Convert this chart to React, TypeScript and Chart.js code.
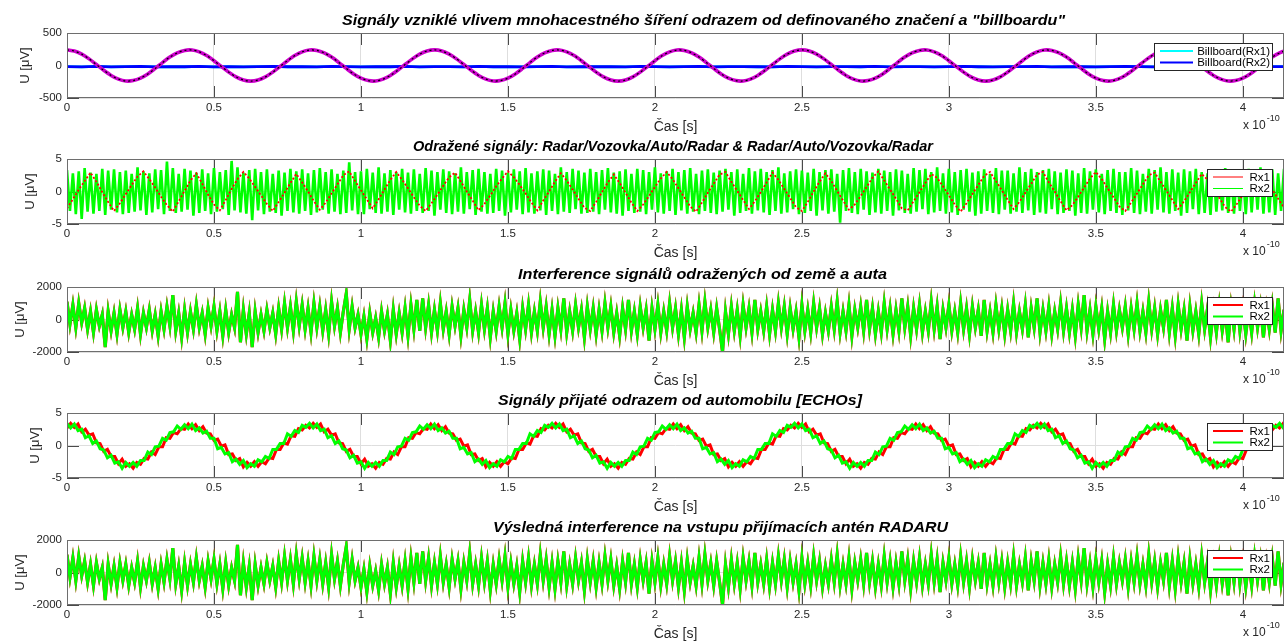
import React, { useEffect, useRef } from "react";
import { Chart, registerables } from "chart.js";
Chart.register(...registerables);

// ---------------- DATA ----------------
const X_MAX = 4.14; // x 10^-10 s
const X_STEP = 0.5;

// Panel 1 – billboard (dt = 0.025)
const P1_DT = 0.025;
const MULTIPATH_SIG = [
  240,223,175,102,15,-74,-153,-210,-238,-232,-194,-129,-45,45,129,194,232,238,210,153,74,-15,-102,-175,-223,-240,-223,-175,-102,-15,74,153,210,238,232,194,129,45,-45,-129,-194,-232,-238,-210,-153,-74,15,102,175,223,
  240,223,175,102,15,-74,-153,-210,-238,-232,-194,-129,-45,45,129,194,232,238,210,153,74,-15,-102,-175,-223,-240,-223,-175,-102,-15,74,153,210,238,232,194,129,45,-45,-129,-194,-232,-238,-210,-153,-74,15,102,175,223,
  240,223,175,102,15,-74,-153,-210,-238,-232,-194,-129,-45,45,129,194,232,238,210,153,74,-15,-102,-175,-223,-240,-223,-175,-102,-15,74,153,210,238,232,194,129,45,-45,-129,-194,-232,-238,-210,-153,-74,15,102,175,223,
  240,223,175,102,15,-74,-153,-210,-238,-232,-194,-129,-45,45,129,194,232,238,210,153,
];
const BB_DT = 0.05;
const BILLBOARD = [
  -16,-20,-14,-22,-18,-15,-21,-17,-19,-13,
  -20,-16,-22,-18,-15,-19,-17,-21,-14,-18,
  -20,-16,-19,-15,-22,-17,-18,-20,-14,-19,
  -16,-21,-18,-15,-20,-17,-19,-16,-22,-14,
  -18,-20,-17,-15,-21,-18,-16,-19,-20,-14,
  -17,-22,-18,-16,-19,-15,-21,-17,-18,-20,
  -16,-14,-19,-21,-17,-18,-15,-20,-16,-19,
  -22,-17,-14,-18,-20,-16,-19,-15,-21,-18,
  -17,-20,-16,-18,-19,-15,-21,-17,-18,-20,
];

// Panel 2 – reflected signals
const P2_G_DT = 0.01;
const REFL_RX2 = [
  3.3,-3.0,2.8,-3.5,3.1,-4.2,3.6,-3.1,2.9,-3.4,2.7,-3.0,3.5,-3.6,3.2,-2.8,3.4,-3.2,3.0,-3.5,
  3.2,-3.3,2.7,-3.1,3.7,-2.9,3.1,-3.6,2.8,-3.2,3.4,-2.7,3.3,-3.5,4.6,-3.0,3.6,-3.3,2.7,-3.1,
  3.5,-2.8,3.2,-3.7,2.9,-3.3,3.4,-3.0,2.8,-3.5,3.6,-3.1,3.0,-2.7,3.3,-3.6,4.7,-2.9,3.7,-3.2,
  2.9,-3.4,3.3,-4.4,3.5,-2.9,3.0,-3.5,3.4,-3.1,2.7,-3.3,3.2,-3.7,2.9,-3.0,3.5,-3.2,3.1,-3.4,
  3.4,-3.0,2.8,-3.6,3.3,-3.2,3.6,-2.8,3.0,-3.4,3.4,-3.1,2.7,-3.5,3.2,-3.3,4.5,-2.9,3.0,-3.5,
  3.1,-3.5,3.5,-2.7,2.9,-3.3,3.7,-3.4,2.8,-3.1,3.3,-3.6,3.0,-2.8,3.5,-3.2,2.9,-3.4,3.4,-3.0,
  2.7,-3.3,3.6,-3.0,3.2,-3.7,3.0,-2.8,3.4,-3.3,3.1,-3.5,2.8,-3.1,3.7,-3.4,3.0,-2.7,3.3,-3.6,
  3.5,-3.1,3.0,-3.4,2.7,-3.3,3.5,-3.0,3.2,-3.7,2.9,-3.2,3.4,-2.8,3.1,-3.5,3.6,-3.2,2.8,-3.4,
  3.1,-2.9,3.4,-3.6,3.2,-3.0,2.7,-3.5,3.7,-3.1,3.0,-3.3,3.5,-2.7,3.2,-3.4,2.9,-3.3,3.5,-3.1,
  3.0,-3.5,3.3,-2.8,3.6,-3.2,2.9,-3.4,3.1,-3.7,3.4,-3.0,2.7,-3.3,3.5,-3.1,3.3,-3.5,3.0,-2.8,
  3.7,-3.2,2.8,-3.4,3.1,-3.0,3.5,-3.6,3.0,-2.9,3.3,-3.4,3.6,-3.1,2.7,-3.5,3.2,-3.0,3.4,-3.3,
  2.9,-3.5,3.2,-3.1,3.5,-2.8,3.0,-3.7,3.4,-3.3,2.7,-3.0,3.6,-3.4,3.1,-2.9,3.5,-3.2,3.0,-3.6,
  3.3,-3.0,3.7,-3.4,2.8,-3.2,3.1,-2.7,3.4,-3.5,3.2,-3.3,2.9,-3.0,3.5,-3.7,3.0,-2.9,3.3,-3.4,
  3.4,-3.1,2.7,-4.8,3.3,-3.0,3.6,-3.3,3.0,-3.5,3.5,-2.8,3.1,-3.6,2.9,-3.2,3.5,-3.4,3.2,-3.0,
  3.0,-3.7,3.4,-2.9,3.2,-3.3,2.7,-3.4,3.6,-3.1,3.3,-2.7,3.5,-3.5,3.0,-3.2,3.7,-3.0,2.8,-3.4,
  3.5,-3.2,3.0,-3.6,3.3,-2.8,3.5,-3.1,2.9,-3.7,3.1,-3.4,3.4,-3.0,2.7,-3.3,3.6,-3.5,3.2,-2.8,
  3.2,-3.4,2.8,-3.1,3.7,-3.3,3.0,-2.9,3.5,-3.6,3.0,-3.2,3.3,-3.4,3.5,-2.7,3.1,-3.5,2.9,-3.3,
  3.4,-3.0,3.2,-3.7,2.8,-3.3,3.6,-3.4,3.1,-2.8,3.4,-3.2,2.7,-3.5,3.3,-3.0,3.5,-3.3,3.0,-3.6,
  3.0,-2.9,3.6,-3.3,3.2,-3.5,2.7,-3.1,3.5,-3.4,3.3,-2.8,3.7,-3.2,3.0,-3.4,3.4,-3.0,2.9,-3.7,
  3.4,-3.3,3.1,-2.7,3.5,-3.5,3.0,-3.3,2.8,-3.6,3.4,-3.1,3.2,-2.9,3.6,-3.3,3.0,-3.4,3.3,-3.0,
  2.9,-3.5,3.5,-3.2,3.3,-2.8,3.7,-3.4,3.0,-3.2,3.4,-3.6,2.8,-3.0,3.5,-3.3,3.2,-2.8,3.4,-3.5,
];
const P2_R_DT = 0.02;
const REFL_RX1 = [
  -2.6,-1.2,0.3,1.6,2.9,1.5,-0.1,-1.6,-3.0,-1.8,-0.4,1.0,2.3,3.1,1.9,0.6,-0.8,-2.1,-3.1,-1.5,
  0.1,1.7,2.8,1.2,-0.5,-2.0,-2.9,-1.3,0.4,1.9,3.0,2.0,0.7,-0.6,-1.9,-3.0,-1.6,-0.2,1.3,2.7,
  1.4,0.0,-1.5,-2.8,-1.7,-0.3,1.1,2.5,3.1,1.6,0.2,-1.2,-2.6,-1.2,0.3,1.8,3.0,1.8,0.5,-0.9,
  -2.2,-3.0,-1.8,-0.5,0.9,2.2,2.9,1.5,0.0,-1.4,-2.9,-1.9,-0.6,0.8,2.0,3.1,2.2,1.0,-0.3,-1.7,
  -2.9,-1.4,0.0,1.5,2.8,1.7,0.3,-1.1,-2.5,-3.0,-1.6,-0.1,1.4,2.6,1.3,-0.2,-1.7,-3.0,-2.0,-0.7,
  0.7,2.0,3.0,1.9,0.5,-0.9,-2.3,-3.1,-1.7,-0.2,1.2,2.6,3.0,1.5,0.1,-1.3,-2.7,-1.5,-0.1,1.4,
  2.9,1.8,0.4,-1.0,-2.4,-3.0,-1.6,0.0,1.5,2.8,1.6,0.1,-1.4,-2.8,-2.0,-0.7,0.7,2.1,3.1,1.7,
  0.3,-1.1,-2.6,-2.9,-1.5,-0.1,1.3,2.7,2.1,0.8,-0.6,-2.0,-3.1,-1.8,-0.4,1.0,2.4,3.0,1.6,0.2,
  -1.3,-2.7,-1.6,-0.2,1.2,2.6,3.0,1.4,0.0,-1.5,-2.9,-2.1,-0.8,0.6,2.0,3.0,1.9,0.5,-0.9,-2.3,
  -3.0,-1.7,-0.3,1.1,2.5,2.9,1.5,0.1,-1.3,-2.7,-1.5,-0.1,1.3,2.7,1.8,0.4,-1.0,-2.4,-3.1,-1.9,
  -0.5,0.9,2.3,3.0,1.7,0.3,-1.1,-2.5,-3.0,-1.6,-0.2,1.2,2.6,3.1,1.9,0.6,-0.8,-2.2,-3.0,-1.6,
];

// Panels 3 and 5 – interference (dt = 0.01)
const INT_DT = 0.01;
const INTERF = [
  1100,-300,900,-500,1000,-200,700,-600,500,-800,600,-400,300,-1700,500,-700,400,-900,600,-500,
  500,-800,300,-600,700,-900,400,-500,600,-700,300,-1000,500,-600,800,-400,1500,-700,400,-1100,
  600,-800,500,-600,900,-500,400,-900,700,-400,800,-700,500,-1000,600,-800,300,-500,1700,-1400,
  600,-900,400,-1700,500,-800,300,-700,600,-500,400,-900,700,-600,1000,-500,800,-700,1100,-400,
  900,-600,700,-800,1000,-500,800,-700,600,-900,1100,-400,700,-800,500,1600,-600,800,-500,300,
  -900,200,-1200,400,-800,100,-1100,500,-700,300,-1300,600,-900,400,-800,700,-1000,900,-600,1200,
  -700,1300,-500,900,-800,600,-700,1000,-600,500,-900,800,-400,700,-1000,600,-500,1200,-700,500,
  -800,900,-600,700,-1100,500,-700,800,-500,1000,-900,600,-700,400,-1200,700,-600,900,-800,500,
  -700,1100,-500,800,-900,600,-1000,700,-600,1300,-800,500,-700,900,-500,600,-1100,800,-600,700,
  -900,600,-700,1000,-500,800,-800,400,-1000,700,-600,1200,-700,500,-900,800,-500,600,-1300,700,
  -600,900,-800,500,-700,1000,-500,700,-900,600,-1100,800,-600,400,-800,900,-700,1100,-500,600,
  -800,700,-600,-2000,500,-900,800,-700,600,-1000,900,-500,700,-800,1200,-600,500,-700,800,-900,
  600,-700,1000,-500,800,-900,700,-600,500,-1100,900,-700,600,-800,1000,-500,700,-900,400,-700,
  800,-600,1100,-800,500,-700,900,-1000,600,-500,800,-700,1200,-600,700,-900,500,-800,1000,-600,
  700,-900,600,-700,1300,-500,800,-1000,700,-600,900,-800,500,-700,1100,-600,800,-1200,600,-500,
  900,-700,500,-800,1000,-600,700,-900,800,-500,600,-1000,1200,-700,500,-800,900,-600,700,-900,
  600,-700,1000,-800,500,-600,900,-1100,700,-500,1300,-800,600,-700,800,-900,500,-600,1000,-700,
  700,-800,600,-1000,900,-500,1500,-700,600,-900,800,-600,700,-1200,500,-800,900,-700,600,-500,
  800,-900,700,-600,1000,-700,500,-800,1100,-600,700,-900,600,-500,1200,-800,700,-1000,900,-600,
  600,-1300,800,-700,500,-900,1000,-600,700,-1100,600,-800,900,-700,500,-1400,800,-600,1200,-700,
  700,-900,600,-800,1000,-500,800,-1100,700,-600,900,-800,1300,-700,600,-900,1100,-500,800,-700,
];

// Panel 4 – echoes (dt = 0.0125)
const ECHO_DT = 0.0125;
const ECHO_RX2 = [
  3.4,2.7,3.3,2.3,2.5,1.2,1.5,0.3,0.7,-0.5,-0.7,-1.9,-1.5,-2.7,-2.5,-3.5,-2.6,-3.2,-2.6,-3.2,-2.3,-2.3,-1.0,-1.4,-0.2,-0.1,1.1,0.8,2.0,2.1,3.0,2.5,3.2,
  2.6,3.3,2.3,2.7,1.9,2.2,1.1,1.1,-0.5,-0.3,-1.3,-1.1,-2.5,-2.1,-2.9,-2.3,-3.4,-2.8,-3.2,-2.2,-2.5,-1.7,-2.0,-0.6,-0.6,0.3,0.3,1.8,1.4,2.3,2.0,3.1,2.8,
  3.4,2.7,3.3,2.3,2.5,1.2,1.5,0.3,0.7,-0.5,-0.7,-1.9,-1.5,-2.7,-2.5,-3.5,-2.6,-3.2,-2.6,-3.2,-2.3,-2.3,-1.0,-1.4,-0.2,-0.1,1.1,0.8,2.0,2.1,3.0,2.5,3.2,
  2.6,3.3,2.3,2.7,1.9,2.2,1.1,1.1,-0.5,-0.3,-1.3,-1.1,-2.5,-2.1,-2.9,-2.3,-3.4,-2.8,-3.2,-2.2,-2.5,-1.7,-2.0,-0.6,-0.6,0.3,0.3,1.8,1.4,2.3,2.0,3.1,2.8,
  3.4,2.7,3.3,2.3,2.5,1.2,1.5,0.3,0.7,-0.5,-0.7,-1.9,-1.5,-2.7,-2.5,-3.5,-2.6,-3.2,-2.6,-3.2,-2.3,-2.3,-1.0,-1.4,-0.2,-0.1,1.1,0.8,2.0,2.1,3.0,2.5,3.2,
  2.6,3.3,2.3,2.7,1.9,2.2,1.1,1.1,-0.5,-0.3,-1.3,-1.1,-2.5,-2.1,-2.9,-2.3,-3.4,-2.8,-3.2,-2.2,-2.5,-1.7,-2.0,-0.6,-0.6,0.3,0.3,1.8,1.4,2.3,2.0,3.1,2.8,
  3.4,2.7,3.3,2.3,2.5,1.2,1.5,0.3,0.7,-0.5,-0.7,-1.9,-1.5,-2.7,-2.5,-3.5,-2.6,-3.2,-2.6,-3.2,-2.3,-2.3,-1.0,-1.4,-0.2,-0.1,1.1,0.8,2.0,2.1,3.0,2.5,3.2,
  2.6,3.3,2.3,2.7,1.9,2.2,1.1,1.1,-0.5,-0.3,-1.3,-1.1,-2.5,-2.1,-2.9,-2.3,-3.4,-2.8,-3.2,-2.2,-2.5,-1.7,-2.0,-0.6,-0.6,0.3,0.3,1.8,1.4,2.3,2.0,3.1,2.8,
  3.4,2.7,3.3,2.3,2.5,1.2,1.5,0.3,0.7,-0.5,-0.7,-1.9,-1.5,-2.7,-2.5,-3.5,-2.6,-3.2,-2.6,-3.2,-2.3,-2.3,-1.0,-1.4,-0.2,-0.1,1.1,0.8,2.0,2.1,3.0,2.5,3.2,
  2.6,3.3,2.3,2.7,1.9,2.2,1.1,1.1,-0.5,-0.3,-1.3,-1.1,-2.5,-2.1,-2.9,-2.3,-3.4,-2.8,-3.2,-2.2,-2.5,-1.7,-2.0,-0.6,-0.6,0.3,0.3,1.8,1.4,2.3,2.0,3.1,2.8,
  3.4,2.7,3.3,2.3,2.5,1.2,
];
const ECHO_RX1 = [
  2.7,3.4,2.8,3.3,2.1,2.5,1.6,1.8,0.4,0.3,-0.9,-0.6,-1.7,-1.7,-2.8,-2.1,-3.2,-2.8,-3.5,-2.6,-2.9,-2.0,-2.1,-1.0,-1.4,-0.2,-0.2,1.2,1.1,2.0,1.8,2.6,2.5,
  3.3,2.6,3.2,2.3,2.9,1.9,1.8,0.8,1.0,-0.1,0.1,-1.4,-1.3,-2.3,-2.0,-3.3,-2.6,-3.2,-2.5,-3.2,-2.5,-2.8,-1.9,-2.0,-0.6,-0.6,0.4,0.2,1.5,1.4,2.6,2.4,3.1,
  2.7,3.4,2.8,3.3,2.1,2.5,1.6,1.8,0.4,0.3,-0.9,-0.6,-1.7,-1.7,-2.8,-2.1,-3.2,-2.8,-3.5,-2.6,-2.9,-2.0,-2.1,-1.0,-1.4,-0.2,-0.2,1.2,1.1,2.0,1.8,2.6,2.5,
  3.3,2.6,3.2,2.3,2.9,1.9,1.8,0.8,1.0,-0.1,0.1,-1.4,-1.3,-2.3,-2.0,-3.3,-2.6,-3.2,-2.5,-3.2,-2.5,-2.8,-1.9,-2.0,-0.6,-0.6,0.4,0.2,1.5,1.4,2.6,2.4,3.1,
  2.7,3.4,2.8,3.3,2.1,2.5,1.6,1.8,0.4,0.3,-0.9,-0.6,-1.7,-1.7,-2.8,-2.1,-3.2,-2.8,-3.5,-2.6,-2.9,-2.0,-2.1,-1.0,-1.4,-0.2,-0.2,1.2,1.1,2.0,1.8,2.6,2.5,
  3.3,2.6,3.2,2.3,2.9,1.9,1.8,0.8,1.0,-0.1,0.1,-1.4,-1.3,-2.3,-2.0,-3.3,-2.6,-3.2,-2.5,-3.2,-2.5,-2.8,-1.9,-2.0,-0.6,-0.6,0.4,0.2,1.5,1.4,2.6,2.4,3.1,
  2.7,3.4,2.8,3.3,2.1,2.5,1.6,1.8,0.4,0.3,-0.9,-0.6,-1.7,-1.7,-2.8,-2.1,-3.2,-2.8,-3.5,-2.6,-2.9,-2.0,-2.1,-1.0,-1.4,-0.2,-0.2,1.2,1.1,2.0,1.8,2.6,2.5,
  3.3,2.6,3.2,2.3,2.9,1.9,1.8,0.8,1.0,-0.1,0.1,-1.4,-1.3,-2.3,-2.0,-3.3,-2.6,-3.2,-2.5,-3.2,-2.5,-2.8,-1.9,-2.0,-0.6,-0.6,0.4,0.2,1.5,1.4,2.6,2.4,3.1,
  2.7,3.4,2.8,3.3,2.1,2.5,1.6,1.8,0.4,0.3,-0.9,-0.6,-1.7,-1.7,-2.8,-2.1,-3.2,-2.8,-3.5,-2.6,-2.9,-2.0,-2.1,-1.0,-1.4,-0.2,-0.2,1.2,1.1,2.0,1.8,2.6,2.5,
  3.3,2.6,3.2,2.3,2.9,1.9,1.8,0.8,1.0,-0.1,0.1,-1.4,-1.3,-2.3,-2.0,-3.3,-2.6,-3.2,-2.5,-3.2,-2.5,-2.8,-1.9,-2.0,-0.6,-0.6,0.4,0.2,1.5,1.4,2.6,2.4,3.1,
  2.7,3.4,2.8,3.3,2.1,2.5,
];

const TITLES = [
  'Signály vzniklé vlivem mnohacestného šíření odrazem od definovaného značení a "billboardu"',
  "Odražené signály: Radar/Vozovka/Auto/Radar & Radar/Auto/Vozovka/Radar",
  "Interference signálů odražených od země a auta",
  "Signály přijaté odrazem od automobilu [ECHOs]",
  "Výsledná interference na vstupu přijímacích antén RADARU",
];
const Y_LABEL = "U [μV]";
const X_LABEL = "Čas [s]";

// ---------------- LAYOUT / STYLE ----------------
const FONT = "'Liberation Sans', Arial, Helvetica, sans-serif";
const TXT = "#262626";
const PLOT_LEFT = 67;
const PLOT_RIGHT = 1284;
const PLOT_H = 65;
const CANVAS_W = 1287;
const CANVAS_H = 138;
const PAD_TOP = 33;
const X_BOX_H = 20;
const TICK_LEN = 12;

type Series = {
  label: string; color: string; width: number; values: number[]; dt: number;
  dash?: number[]; tension?: number; order: number; legend: boolean;
};
type Panel = {
  title: string; titleCx: number; titleW: number; top: number; yMin: number; yMax: number; yStep: number; yLabelX: number;
  legendLeft: number; legendLine: number; series: Series[];
};

const PANELS: Panel[] = [
  {
    title: TITLES[0], titleCx: 703.5, titleW: 723, top: 33, yMin: -500, yMax: 500, yStep: 500, yLabelX: 25,
    legendLeft: 1154, legendLine: 2,
    series: [
      { label: "Billboard(Rx1)", color: "#00ffff", width: 2.8, values: BILLBOARD, dt: BB_DT, order: 3, legend: true },
      { label: "Billboard(Rx2)", color: "#0000ff", width: 2.8, values: BILLBOARD, dt: BB_DT, order: 2, legend: true },
      { label: "multipath", color: "#cc00cc", width: 3.6, values: MULTIPATH_SIG, dt: P1_DT, tension: 0.3, order: 1, legend: false },
      { label: "multipath2", color: "#000000", width: 1.2, values: MULTIPATH_SIG, dt: P1_DT, tension: 0.3, dash: [2, 3], order: 0, legend: false },
    ],
  },
  {
    title: TITLES[1], titleCx: 673, titleW: 520, top: 159, yMin: -5, yMax: 5, yStep: 5, yLabelX: 30,
    legendLeft: 1207, legendLine: 1,
    series: [
      { label: "Rx1", color: "#ff0000", width: 1.8, values: REFL_RX1, dt: P2_R_DT, dash: [2, 2], order: 0, legend: true },
      { label: "Rx2", color: "#00ff00", width: 2.6, values: REFL_RX2, dt: P2_G_DT, order: 1, legend: true },
    ],
  },
  {
    title: TITLES[2], titleCx: 702.5, titleW: 369, top: 287, yMin: -2000, yMax: 2000, yStep: 2000, yLabelX: 20,
    legendLeft: 1207, legendLine: 2,
    series: [
      { label: "Rx1", color: "#ff0000", width: 3.2, values: INTERF, dt: INT_DT, order: 1, legend: true },
      { label: "Rx2", color: "#00ff00", width: 3.0, values: INTERF, dt: INT_DT, order: 0, legend: true },
    ],
  },
  {
    title: TITLES[3], titleCx: 680, titleW: 364, top: 413, yMin: -5, yMax: 5, yStep: 5, yLabelX: 35,
    legendLeft: 1207, legendLine: 2,
    series: [
      { label: "Rx1", color: "#ff0000", width: 3.0, values: ECHO_RX1, dt: ECHO_DT, order: 1, legend: true },
      { label: "Rx2", color: "#00ff00", width: 3.0, values: ECHO_RX2, dt: ECHO_DT, order: 0, legend: true },
    ],
  },
  {
    title: TITLES[4], titleCx: 720.5, titleW: 455, top: 540, yMin: -2000, yMax: 2000, yStep: 2000, yLabelX: 20,
    legendLeft: 1207, legendLine: 2,
    series: [
      { label: "Rx1", color: "#ff0000", width: 3.2, values: INTERF, dt: INT_DT, order: 1, legend: true },
      { label: "Rx2", color: "#00ff00", width: 3.0, values: INTERF, dt: INT_DT, order: 0, legend: true },
    ],
  },
];

function makePlugin(p: Panel) {
  return {
    id: "matlabPanel",
    beforeDatasetsDraw(chart: any) {
      const { ctx, chartArea: a, scales } = chart;
      ctx.save();
      ctx.strokeStyle = "#4a4a4a";
      ctx.lineWidth = 1;
      ctx.beginPath();
      scales.x.ticks.forEach((t: any) => {
        const px = Math.round(scales.x.getPixelForValue(t.value)) + 0.5;
        ctx.moveTo(px, a.top); ctx.lineTo(px, a.top + TICK_LEN);
        ctx.moveTo(px, a.bottom); ctx.lineTo(px, a.bottom - TICK_LEN);
      });
      scales.y.ticks.forEach((t: any) => {
        const py = Math.round(scales.y.getPixelForValue(t.value)) + 0.5;
        ctx.moveTo(a.left, py); ctx.lineTo(a.left + TICK_LEN, py);
        ctx.moveTo(a.right, py); ctx.lineTo(a.right - TICK_LEN, py);
      });
      ctx.stroke();
      ctx.restore();
    },
    afterDatasetsDraw(chart: any) {
      const { ctx, chartArea: a } = chart;
      ctx.save();
      ctx.strokeStyle = "#6e6e6e";
      ctx.lineWidth = 1;
      ctx.strokeRect(Math.round(a.left) + 0.5, Math.round(a.top) + 0.5, Math.round(a.right - a.left) - 1, Math.round(a.bottom - a.top) - 1);
      const items = p.series.filter((s) => s.legend);
      const boxL = p.legendLeft, boxR = 1273, boxT = a.top + 10, boxH = 28;
      ctx.fillStyle = "#ffffff";
      ctx.fillRect(boxL, boxT, boxR - boxL, boxH);
      ctx.strokeStyle = "#262626";
      ctx.strokeRect(boxL + 0.5, boxT + 0.5, boxR - boxL - 1, boxH - 1);
      ctx.font = `11.5px ${FONT}`;
      ctx.textAlign = "right";
      ctx.textBaseline = "middle";
      const lineLen = p.legendLeft < 1200 ? 33 : 30;
      items.forEach((s, i) => {
        const y = boxT + 8 + i * 11.5;
        ctx.strokeStyle = s.color;
        ctx.lineWidth = p.legendLine;
        ctx.beginPath();
        ctx.moveTo(boxL + 6, y); ctx.lineTo(boxL + 6 + lineLen, y);
        ctx.stroke();
        ctx.fillStyle = "#000";
        ctx.fillText(s.label, boxR - 3, y + 0.5);
      });
      ctx.restore();
    },
    afterDraw(chart: any) {
      const { ctx, chartArea: a } = chart;
      const cx = (a.left + a.right) / 2;
      ctx.save();
      ctx.fillStyle = "#000";
      ctx.font = `italic bold 14px ${FONT}`;
      ctx.textAlign = "center";
      ctx.textBaseline = "middle";
      const tw = ctx.measureText(p.title).width;
      ctx.save();
      ctx.translate(p.titleCx, a.top - 11.5);
      ctx.scale(p.titleW / tw, 1);
      ctx.fillText(p.title, 0, 0);
      ctx.restore();
      ctx.fillStyle = TXT;
      ctx.font = `14px ${FONT}`;
      ctx.fillText(X_LABEL, cx, a.bottom + 29);
      ctx.textAlign = "left";
      ctx.font = `12px ${FONT}`;
      ctx.fillText("x 10", 1243, a.bottom + 28);
      const w = ctx.measureText("x 10").width;
      ctx.font = `9px ${FONT}`;
      ctx.fillText("-10", 1243 + w + 1, a.bottom + 21);
      ctx.translate(p.yLabelX, (a.top + a.bottom) / 2);
      ctx.rotate(-Math.PI / 2);
      ctx.textAlign = "center";
      ctx.font = `13px ${FONT}`;
      ctx.fillText(Y_LABEL, 0, 0);
      ctx.restore();
    },
  };
}

function PanelChart({ panel }: { panel: Panel }) {
  const ref = useRef<HTMLCanvasElement | null>(null);
  useEffect(() => {
    if (!ref.current) return;
    const chart = new Chart(ref.current, {
      type: "line",
      data: {
        datasets: panel.series.map((s) => ({
          label: s.label,
          data: s.values.map((v, i) => ({ x: i * s.dt, y: v })),
          borderColor: s.color,
          borderWidth: s.width,
          borderDash: s.dash || [],
          borderJoinStyle: "miter",
          pointRadius: 0,
          tension: s.tension || 0,
          fill: false,
          order: s.order,
        })),
      },
      options: {
        responsive: false,
        animation: false,
        devicePixelRatio: 1,
        events: [],
        layout: { padding: { top: PAD_TOP, left: 0, right: CANVAS_W - PLOT_RIGHT, bottom: CANVAS_H - PAD_TOP - PLOT_H - X_BOX_H } },
        plugins: { legend: { display: false }, tooltip: { enabled: false }, title: { display: false } },
        scales: {
          x: {
            type: "linear",
            min: 0,
            max: X_MAX,
            afterFit: (s: any) => { s.height = X_BOX_H; },
            grid: { color: "#dedede", drawTicks: false, lineWidth: 1 },
            border: { display: false },
            ticks: {
              stepSize: X_STEP, includeBounds: false, autoSkip: false, maxRotation: 0, padding: 3,
              color: TXT, font: { family: FONT, size: 11.5 },
              callback: (v: any) => String(v),
            },
          },
          y: {
            type: "linear",
            min: panel.yMin,
            max: panel.yMax,
            afterFit: (s: any) => { s.width = PLOT_LEFT; },
            grid: { color: "#dedede", drawTicks: false, lineWidth: 1 },
            border: { display: false },
            ticks: {
              stepSize: panel.yStep, padding: 5, color: TXT, font: { family: FONT, size: 11.5 },
              callback: (v: any) => String(v),
            },
          },
        },
      } as any,
      plugins: [makePlugin(panel)],
    });
    return () => chart.destroy();
  }, [panel]);
  return (
    <canvas
      ref={ref}
      width={CANVAS_W}
      height={CANVAS_H}
      style={{ position: "absolute", left: 0, top: panel.top - PAD_TOP, width: CANVAS_W, height: CANVAS_H }}
    />
  );
}

export default function App() {
  return (
    <div style={{ position: "absolute", left: 0, top: 0, width: 1287, height: 642, overflow: "hidden", background: "#fff" }}>
      {PANELS.map((p, i) => (
        <PanelChart key={i} panel={p} />
      ))}
    </div>
  );
}
